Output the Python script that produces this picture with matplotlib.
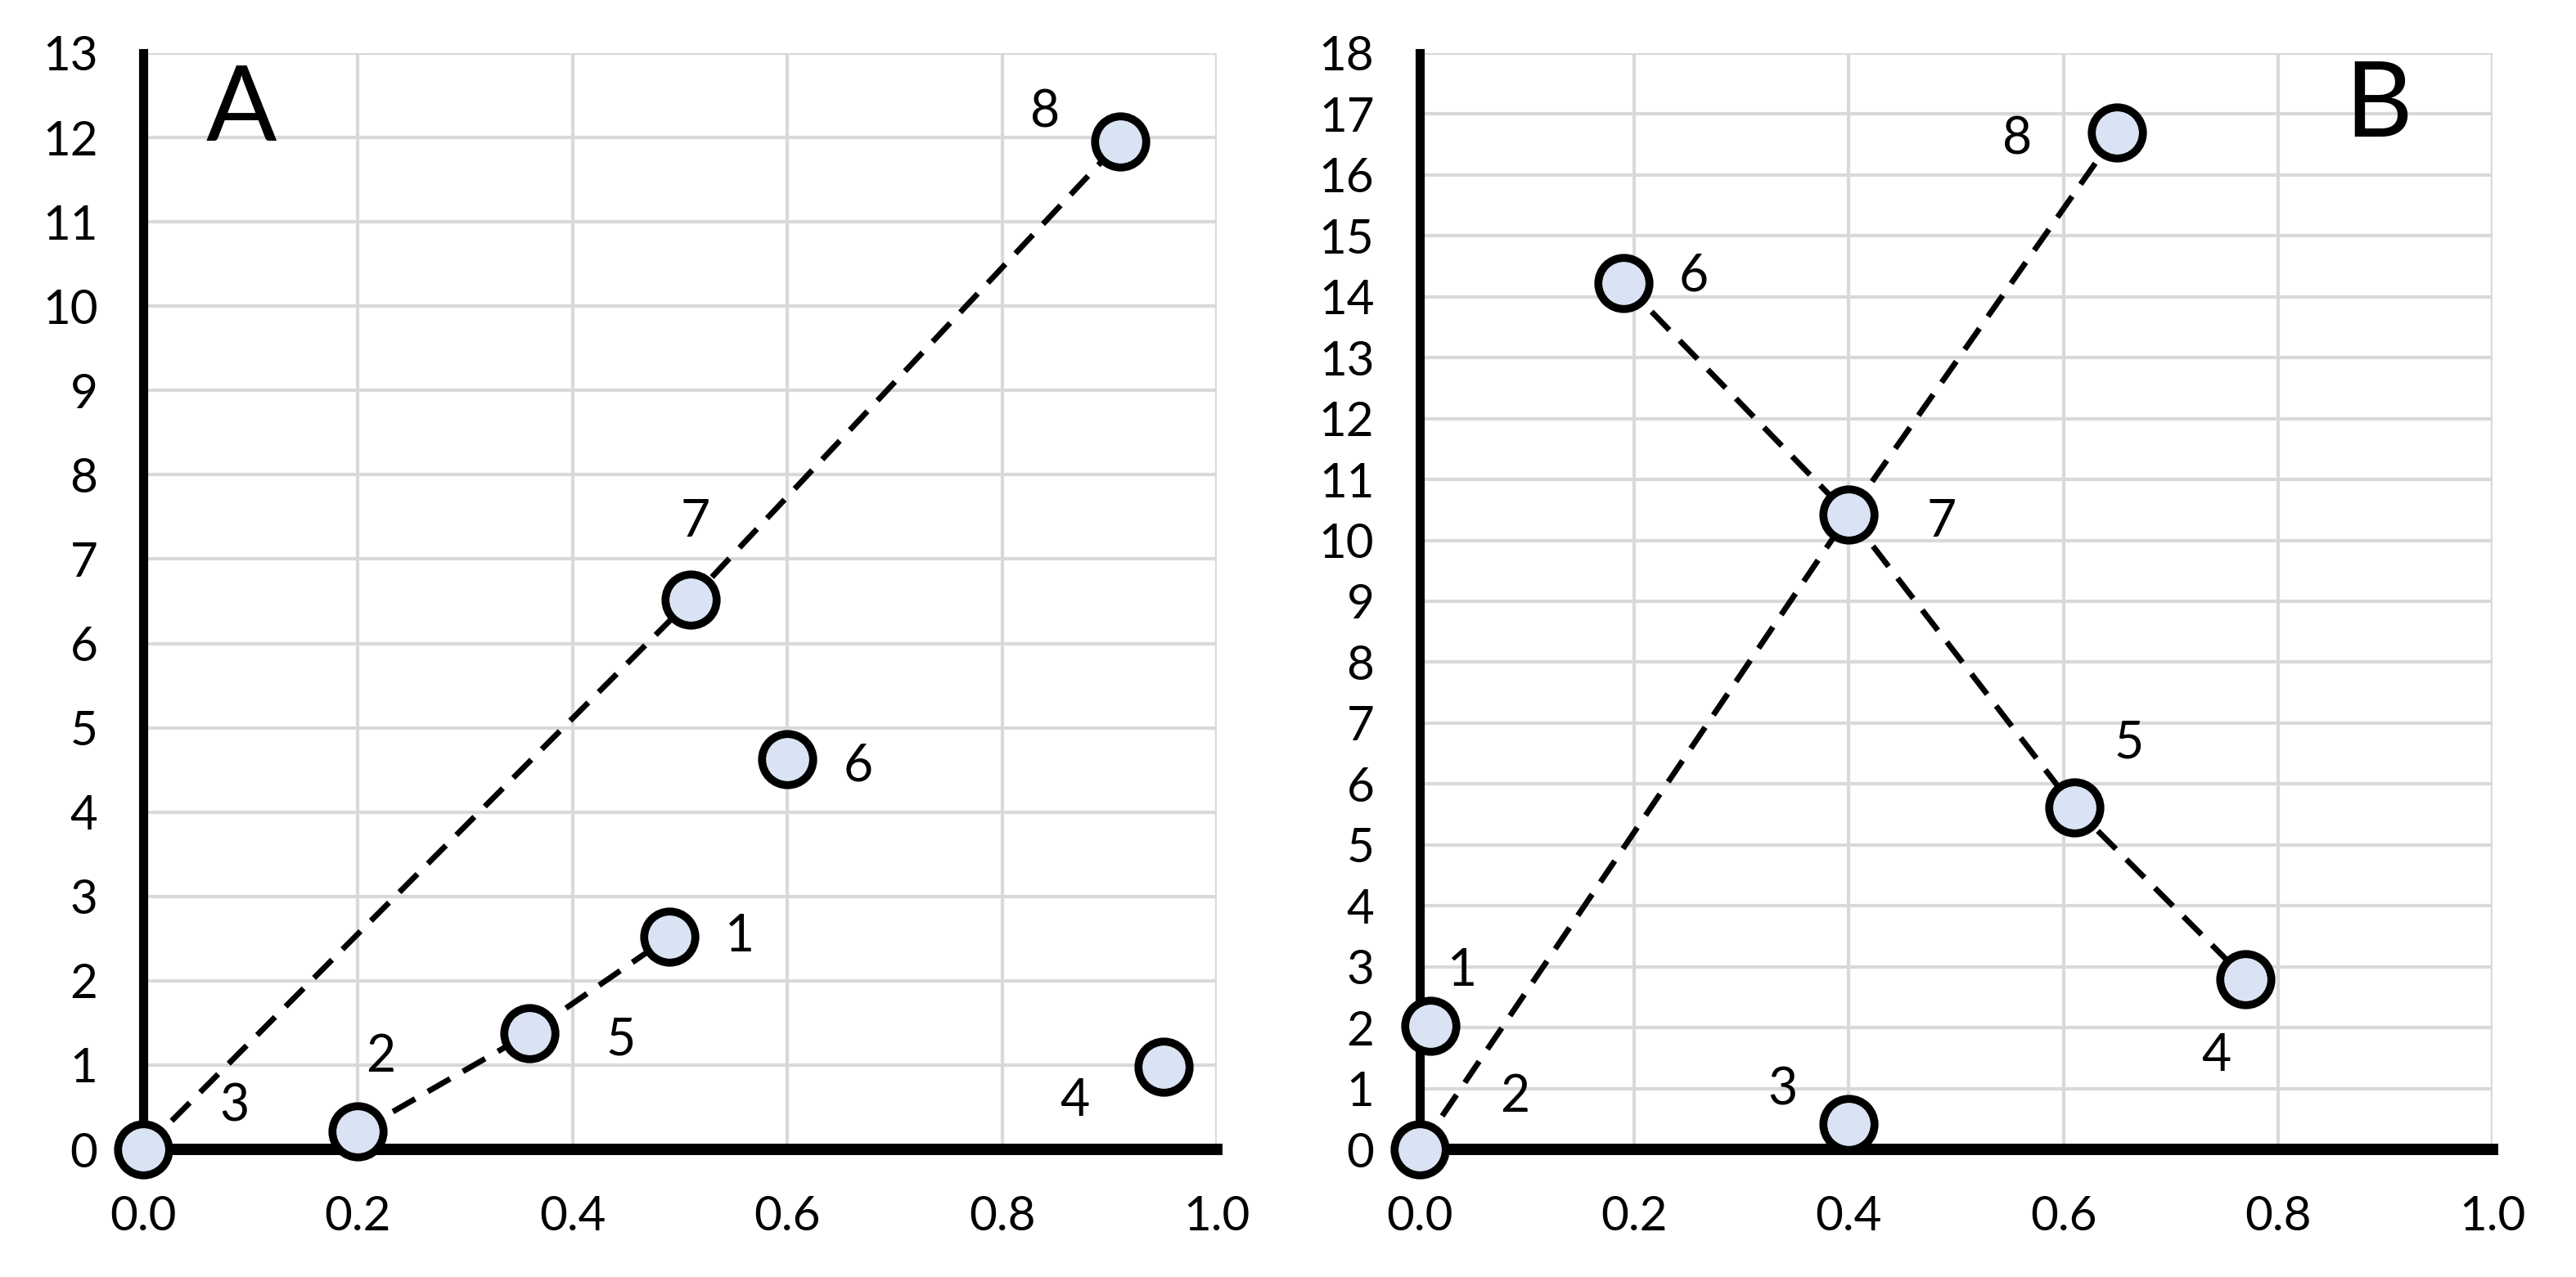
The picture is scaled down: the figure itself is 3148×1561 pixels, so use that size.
import matplotlib.pyplot as plt

plt.rcParams['font.family'] = ['Lato', 'DejaVu Sans']

# points are numbered 1..8 in both panels
point_ids = ["1", "2", "3", "4", "5", "6", "7", "8"]

a_x = [0.49, 0.20, 0.0, 0.95, 0.36, 0.60, 0.51, 0.91]
a_y = [2.52, 0.21, 0.0, 0.98, 1.38, 4.63, 6.52, 11.95]
a_paths = [["3", "7", "8"], ["2", "5", "1"]]

b_x = [0.01, 0.0, 0.40, 0.77, 0.61, 0.19, 0.40, 0.65]
b_y = [2.03, 0.0, 0.42, 2.80, 5.62, 14.23, 10.42, 16.70]
b_paths = [["2", "7", "8"], ["6", "7", "5", "4"]]

# label offsets in points, per point id
a_offsets = {"1": (31, 0), "2": (10, 33), "3": (40, 19), "4": (-39, -15),
             "5": (40, -3), "6": (31, -3), "7": (2, 34), "8": (-33, 13)}
b_offsets = {"1": (14, 24), "2": (42, 23), "3": (-29, 15), "4": (-13, -34),
             "5": (24, 28), "6": (31, 3), "7": (41, -3), "8": (-44, -3)}

fill_col = "#DAE3F3"
grid_col = "#D9D9D9"


def draw_panel(ax, xs, ys, paths, offsets, ymax, letter, letter_pos):
    ax.set_xlim(0, 1.0)
    ax.set_ylim(0, ymax)
    ax.set_xticks([0, 0.2, 0.4, 0.6, 0.8, 1.0])
    ax.set_xticklabels(["0.0", "0.2", "0.4", "0.6", "0.8", "1.0"])
    ax.set_yticks(range(0, ymax + 1))
    ax.grid(True, color=grid_col, linewidth=1.5)
    ax.set_axisbelow(True)
    for s in ["top", "right"]:
        ax.spines[s].set_visible(False)
    ax.spines["left"].set_linewidth(4)
    ax.spines["bottom"].set_linewidth(5)
    ax.tick_params(length=0, labelsize=21, pad=20)

    idx = {p: i for i, p in enumerate(point_ids)}
    for path in paths:
        px = [xs[idx[p]] for p in path]
        py = [ys[idx[p]] for p in path]
        ax.plot(px, py, color="black", linewidth=2.5, dashes=(4.5, 2.6),
                zorder=3, clip_on=False)
    ax.plot(xs, ys, linestyle="none", marker="o", markersize=22.5,
            markerfacecolor=fill_col, markeredgecolor="black",
            markeredgewidth=3.5, zorder=4, clip_on=False)
    for i, p in enumerate(point_ids):
        ax.annotate(p, (xs[i], ys[i]), xytext=offsets[p], textcoords="offset points",
                    ha="center", va="center", fontsize=22.5, zorder=5,
                    annotation_clip=False)
    ax.text(letter_pos[0], letter_pos[1], letter, transform=ax.transAxes,
            ha="center", va="center", fontsize=46)


fig = plt.figure(figsize=(15.74, 7.805), dpi=200)
ax1 = fig.add_axes([0.0556, 0.0999, 0.4168, 0.8585])
ax2 = fig.add_axes([0.5511, 0.0999, 0.4165, 0.8585])

draw_panel(ax1, a_x, a_y, a_paths, a_offsets, 13, "A", (0.091, 0.947))
draw_panel(ax2, b_x, b_y, b_paths, b_offsets, 18, "B", (0.894, 0.951))

fig.savefig("out.png", dpi=200)
